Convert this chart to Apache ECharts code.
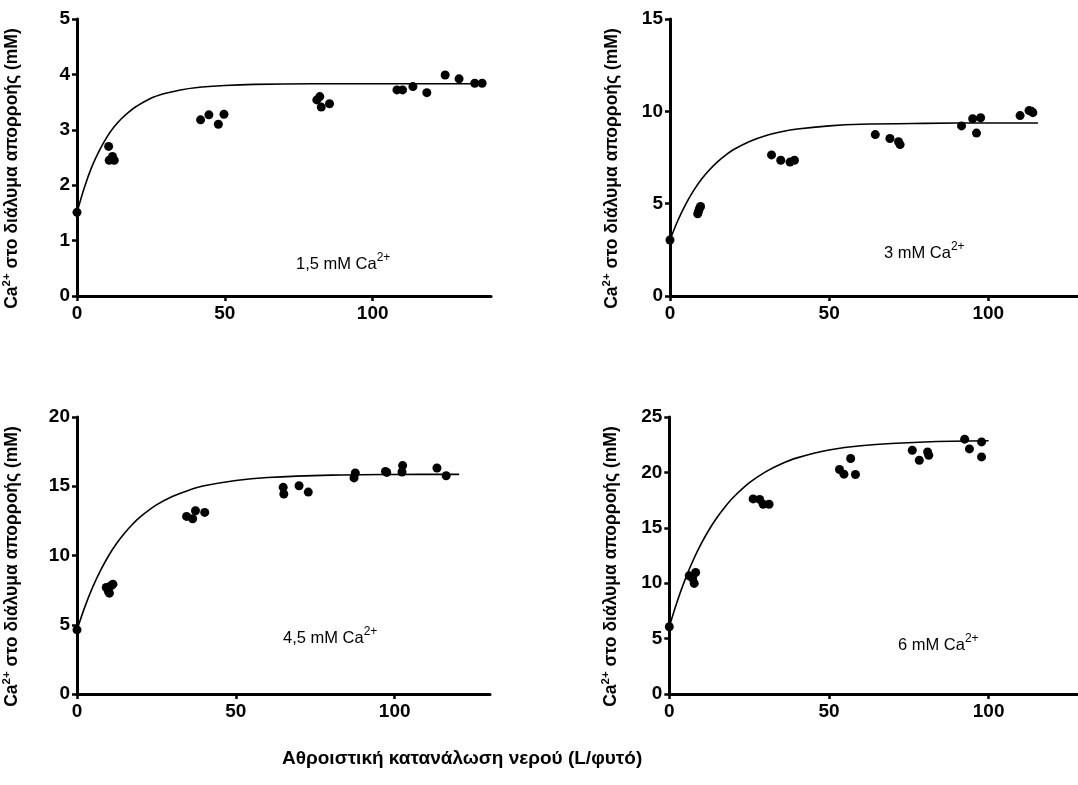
<!DOCTYPE html>
<html>
<head>
<meta charset="utf-8">
<script src="https://cdn.jsdelivr.net/npm/echarts@6/dist/echarts.min.js"></script>
<style>html,body{margin:0;padding:0;background:#fff}#c{width:1078px;height:785px}</style>
</head>
<body>
<div id="c"></div>
<script>
// ---- data ----
const p1X = [0, 10.7, 10.9, 12.0, 12.6, 41.8, 44.6, 47.8, 49.7, 81.1, 82.1, 82.6, 85.4, 108.2, 110.1, 113.6, 118.3, 124.5, 129.2, 134.5, 137.0];
const p1Y = [1.51, 2.70, 2.45, 2.52, 2.45, 3.18, 3.27, 3.10, 3.28, 3.54, 3.60, 3.41, 3.47, 3.72, 3.72, 3.78, 3.67, 3.99, 3.92, 3.84, 3.84];
const p2X = [0, 8.7, 9.0, 9.3, 9.6, 31.9, 34.8, 37.7, 39.1, 64.5, 69.1, 71.8, 72.3, 91.6, 95.1, 96.3, 97.6, 110.0, 112.8, 113.6, 114.0];
const p2Y = [3.03, 4.45, 4.60, 4.75, 4.85, 7.64, 7.35, 7.25, 7.35, 8.74, 8.53, 8.35, 8.20, 9.21, 9.60, 8.82, 9.65, 9.77, 10.04, 10.00, 9.93];
const p3X = [0, 9.2, 9.9, 10.2, 10.8, 11.3, 34.5, 36.4, 37.3, 40.2, 64.9, 65.1, 69.9, 72.8, 87.2, 87.6, 97.1, 97.5, 102.3, 102.5, 113.3, 116.2];
const p3Y = [4.63, 7.69, 7.40, 7.28, 7.83, 7.93, 12.82, 12.65, 13.23, 13.11, 14.92, 14.44, 15.04, 14.58, 15.60, 15.96, 16.07, 16.00, 16.03, 16.49, 16.32, 15.76];
const p4X = [0, 6.25, 7.3, 7.8, 8.25, 26.25, 28.3, 29.4, 31.25, 53.3, 54.7, 56.8, 58.3, 76.1, 78.3, 80.9, 81.25, 92.5, 94.0, 97.8, 97.8];
const p4Y = [6.07, 10.67, 10.43, 9.98, 10.97, 17.61, 17.56, 17.13, 17.13, 20.26, 19.84, 21.25, 19.81, 22.00, 21.10, 21.85, 21.55, 23.00, 22.12, 22.75, 21.40];

// fitted curves
const c1X = [0, 2.5, 5, 7.5, 10, 12.5, 15, 17.5, 20, 25, 30, 35, 40, 50, 60, 80, 100, 138];
const c1Y = [1.51, 1.96, 2.33, 2.62, 2.86, 3.05, 3.20, 3.32, 3.42, 3.57, 3.66, 3.72, 3.76, 3.80, 3.82, 3.83, 3.83, 3.83];
const c2X = [0, 2.5, 5, 7.5, 10, 12.5, 15, 17.5, 20, 25, 30, 35, 40, 50, 60, 80, 100, 115.6];
const c2Y = [3.03, 4.10, 4.99, 5.73, 6.35, 6.85, 7.28, 7.63, 7.93, 8.37, 8.68, 8.89, 9.04, 9.21, 9.30, 9.35, 9.37, 9.37];
const c3X = [0, 2.5, 5, 7.5, 10, 12.5, 15, 17.5, 20, 25, 30, 35, 40, 50, 60, 80, 100, 120.3];
const c3Y = [4.63, 6.31, 7.75, 8.96, 10.00, 10.88, 11.63, 12.26, 12.80, 13.65, 14.26, 14.70, 15.03, 15.42, 15.63, 15.80, 15.85, 15.86];
const c4X = [0, 2.5, 5, 7.5, 10, 12.5, 15, 17.5, 20, 25, 30, 35, 40, 50, 60, 80, 100];
const c4Y = [6.07, 8.38, 10.37, 12.09, 13.57, 14.85, 15.95, 16.90, 17.73, 19.05, 20.03, 20.76, 21.31, 22.02, 22.41, 22.75, 22.85];

const xTicks = [0, 50, 100];
const yMax = [5, 15, 20, 25];
const yStep = [1, 5, 5, 5];
const xMax = [140, 128, 130, 128];
const panelLabels = ['1,5 mM Ca', '3 mM Ca', '4,5 mM Ca', '6 mM Ca'];
const yName = '{n|Ca}{sup|2+}{n| στο διάλυμα απορροής (mM)}';
const xName = 'Αθροιστική κατανάλωση νερού (L/φυτό)';

const zip = (a, b) => a.map((v, i) => [v, b[i]]);
const pts = [zip(p1X, p1Y), zip(p2X, p2Y), zip(p3X, p3Y), zip(p4X, p4Y)];
const curves = [zip(c1X, c1Y), zip(c2X, c2Y), zip(c3X, c3Y), zip(c4X, c4Y)];

const FONT = '"Liberation Sans", Arial, sans-serif';
const grids = [
  {left: 75, top: 19, width: 416, height: 277},
  {left: 670, top: 19, width: 407.4, height: 277},
  {left: 75, top: 417, width: 415, height: 277},
  {left: 669.3, top: 417, width: 409.6, height: 277}
];
const nameGaps = [54, 47, 54, 47];

const axisLine = {show: true, lineStyle: {color: '#000', width: 3}};
const axisTick = {show: true, length: 5, lineStyle: {color: '#000', width: 2.5}};
const axisLabel = {color: '#000', fontFamily: FONT, fontWeight: 'bold', fontSize: 19};

const xAxis = grids.map((g, i) => ({
  type: 'value', gridIndex: i, min: 0, max: xMax[i], interval: 50,
  axisLine, axisTick: Object.assign({customValues: xTicks}, axisTick),
  axisLabel: Object.assign({customValues: xTicks, margin: 8}, axisLabel),
  splitLine: {show: false}
}));
const yAxis = grids.map((g, i) => ({
  type: 'value', gridIndex: i, min: 0, max: yMax[i], interval: yStep[i],
  axisLine, axisTick, axisLabel: Object.assign({margin: 7}, axisLabel),
  splitLine: {show: false},
  name: yName, nameLocation: 'middle', nameGap: nameGaps[i], nameRotate: 90,
  nameTextStyle: {
    color: '#000', fontFamily: FONT, fontWeight: 'bold', fontSize: 17.5,
    padding: [0, 22, 0, 0],
    rich: {
      n: {color: '#000', fontFamily: FONT, fontWeight: 'bold', fontSize: 17.5, lineHeight: 22},
      sup: {color: '#000', fontFamily: FONT, fontWeight: 'bold', fontSize: 11.5, lineHeight: 11, verticalAlign: 'top'}
    }
  }
}));

const series = [];
pts.forEach((d, i) => {
  series.push({type: 'line', xAxisIndex: i, yAxisIndex: i, data: curves[i], showSymbol: false,
    smooth: 0.35, lineStyle: {color: '#000', width: 1.6}, silent: true, z: 2});
  series.push({type: 'scatter', xAxisIndex: i, yAxisIndex: i, data: d, symbol: 'circle', symbolSize: 9,
    itemStyle: {color: '#000', opacity: 1}, clip: false, z: 3});
});

const labelPos = [[296, 252], [884, 241], [283, 626], [898, 633]];
const title = labelPos.map((p, i) => ({
  left: p[0], top: p[1], padding: 0,
  text: '{n|' + panelLabels[i] + '}{sup|2+}',
  textStyle: {
    fontWeight: 'normal',
    rich: {
      n: {color: '#000', fontFamily: FONT, fontWeight: 'normal', fontSize: 16.5, lineHeight: 24},
      sup: {color: '#000', fontFamily: FONT, fontWeight: 'normal', fontSize: 12, lineHeight: 12, verticalAlign: 'top'}
    }
  }
}));
title.push({left: 282, top: 749, padding: 0, text: xName,
  textStyle: {color: '#000', fontFamily: FONT, fontWeight: 'bold', fontSize: 19}});

const chart = echarts.init(document.getElementById('c'), null, {renderer: 'canvas'});
chart.setOption({
  animation: false, backgroundColor: '#fff',
  title, grid: grids, xAxis, yAxis, series
});
</script>
</body>
</html>
